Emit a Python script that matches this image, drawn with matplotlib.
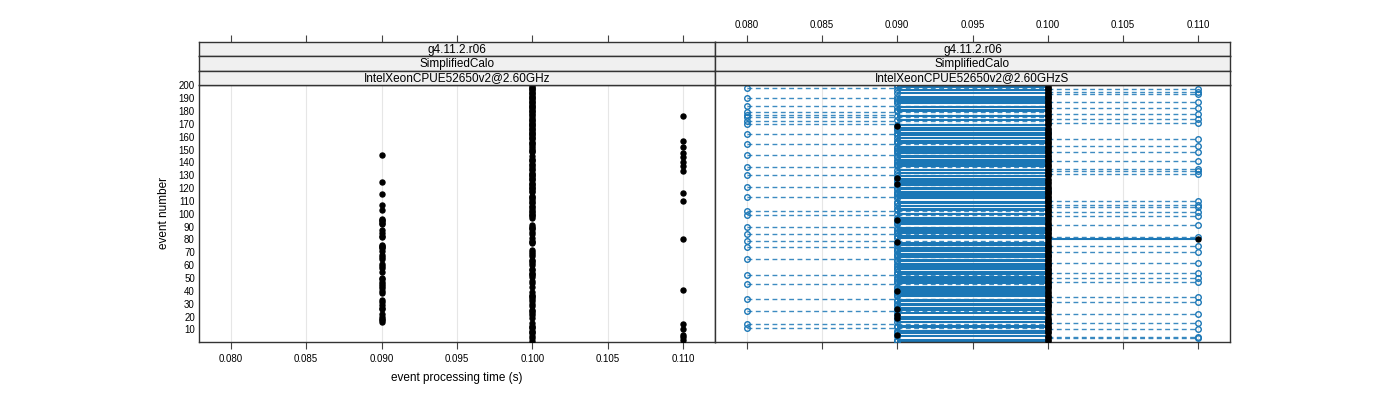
import numpy as np
import matplotlib
matplotlib.use("Agg")
import matplotlib.pyplot as plt

plt.rcParams['font.family'] = ['Liberation Sans', 'DejaVu Sans']

# ---------------- data ----------------
events = np.arange(1, 201)
time_levels = {"t080": 0.080, "t090": 0.090, "t100": 0.100, "t110": 0.110}
xticks = [0.080, 0.085, 0.090, 0.095, 0.100, 0.105, 0.110]
xtick_labels = ["0.080", "0.085", "0.090", "0.095", "0.100", "0.105", "0.110"]
yticks = list(range(10, 201, 10))

strip_left = ["g4.11.2.r06", "SimplifiedCalo", "IntelXeonCPUE52650v2@2.60GHz"]
strip_right = ["g4.11.2.r06", "SimplifiedCalo", "IntelXeonCPUE52650v2@2.60GHzS"]

# left panel: events at 0.090 s and 0.110 s (all others 0.100 s)
left_090 = [146, 125, 115, 107, 103, 96, 95, 94, 93, 92, 87, 85, 83, 82, 76, 75, 74,
            73, 71, 68, 66, 65, 61, 59, 58, 55, 50, 49, 47, 45, 44, 42, 40, 38, 33,
            31, 29, 27, 26, 22, 20, 18, 17, 16]
left_110 = [176, 157, 152, 147, 144, 140, 137, 133, 116, 110, 80, 41, 14, 10, 6, 4, 2]

# right panel reference (black): events at 0.090 / 0.110 s (others 0.100 s)
right_ref_090 = [168, 128, 123, 95, 78, 40, 26, 21, 19, 6]
right_ref_110 = [80]

# right panel comparison (blue circles): events at 0.080 / 0.100 / 0.110 s (others 0.090 s)
right_new_080 = [198, 190, 184, 179, 177, 175, 172, 170, 162, 154, 146, 136, 130,
                 121, 113, 102, 99, 90, 84, 79, 74, 65, 52, 45, 34, 24, 14, 11]
right_new_110 = [197, 195, 193, 187, 182, 178, 174, 171, 158, 153, 148, 141, 135, 133,
                 131, 110, 107, 105, 101, 98, 91, 82, 75, 70, 62, 54, 50, 47, 35, 31,
                 22, 15, 10, 4, 3]
right_new_100 = [192, 185, 164, 160, 143, 118, 111, 88, 80, 67, 60, 56, 44, 28, 17]

# build per-event arrays
left_time = np.full(events.size, time_levels["t100"])
left_time[np.isin(events, left_090)] = time_levels["t090"]
left_time[np.isin(events, left_110)] = time_levels["t110"]

ref_time = np.full(events.size, time_levels["t100"])
ref_time[np.isin(events, right_ref_090)] = time_levels["t090"]
ref_time[np.isin(events, right_ref_110)] = time_levels["t110"]

new_time = np.full(events.size, time_levels["t090"])
new_time[np.isin(events, right_new_080)] = time_levels["t080"]
new_time[np.isin(events, right_new_100)] = time_levels["t100"]
new_time[np.isin(events, right_new_110)] = time_levels["t110"]

# ---------------- layout ----------------
W, H = 1400, 400
fig = plt.figure(figsize=(W / 100, H / 100), dpi=100)

def rect(x0, y0, x1, y1):
    return [x0 / W, 1 - y1 / H, (x1 - x0) / W, (y1 - y0) / H]

XL = (0.0779, 0.1121)
YL = (0.2, 200.2)
BLUE = "#1b77b6"
FRAME = "#333333"

panels = [(199, 715, strip_left), (715, 1230, strip_right)]
strip_rows = [(42, 56.3), (56.3, 70.7), (70.7, 85)]
axes = []
for i, (x0, x1, strips) in enumerate(panels):
    ax = fig.add_axes(rect(x0, 85, x1, 342))
    ax.set_xlim(*XL)
    ax.set_ylim(*YL)
    ax.set_xticks(xticks)
    ax.grid(axis='x', color='#e6e6e6', lw=0.8, zorder=0)
    ax.set_axisbelow(True)
    for s in ax.spines.values():
        s.set_color(FRAME)
        s.set_linewidth(1.0)
    ax.tick_params(axis='x', direction='out', length=5, width=0.8, color='#444444',
                   labelsize=7, pad=4)
    if i == 0:
        ax.set_xticklabels(xtick_labels)
        ax.set_yticks(yticks)
        ax.set_yticklabels([str(v) for v in yticks])
        ax.tick_params(axis='y', length=0, labelsize=7, pad=3)
    else:
        ax.set_xticklabels([])
        ax.set_yticks([])
    axes.append(ax)
    for j, (ya, yb) in enumerate(strip_rows):
        sax = fig.add_axes(rect(x0, ya, x1, yb))
        sax.set_facecolor('#f0f0f0')
        sax.set_xlim(*XL)
        sax.set_yticks([])
        for s in sax.spines.values():
            s.set_color(FRAME)
            s.set_linewidth(1.0)
        sax.text(0.5, 0.45, strips[j], transform=sax.transAxes, ha='center',
                 va='center', fontsize=8.5)
        if j == 0:
            sax.xaxis.tick_top()
            sax.set_xticks(xticks)
            sax.tick_params(axis='x', direction='out', length=5, width=0.8,
                            color='#444444', labelsize=7, pad=4)
            if i == 1:
                sax.set_xticklabels(xtick_labels)
            else:
                sax.set_xticklabels([])
        else:
            sax.set_xticks([])

ax1, ax2 = axes

# left panel points
ax1.plot(left_time, events, 'o', color='black', ms=3.6, mec='black', zorder=3)

# right panel: segments between reference and comparison
diff = ref_time - new_time
solid = (diff > 0) & (diff <= 0.0105)
dashed = (np.abs(diff) > 1e-9) & ~solid
lo = np.minimum(ref_time, new_time)
hi = np.maximum(ref_time, new_time)
ax2.hlines(events[dashed], lo[dashed], hi[dashed], colors=BLUE, lw=1.0,
           linestyles=(0, (3.5, 2.5)), alpha=0.85, zorder=2)
ax2.hlines(events[solid], lo[solid], hi[solid], colors=BLUE, lw=1.5, zorder=2)
ax2.plot(new_time, events, 'o', mfc='none', mec=BLUE, ms=4.0, mew=1.0, zorder=3)
ax2.plot(ref_time, events, 'o', color='black', ms=3.6, zorder=4)

fig.text(457 / W, 1 - 378 / H, "event processing time (s)", ha='center',
         va='center', fontsize=8.5)
fig.text(164 / W, 1 - 213 / H, "event number", ha='center', va='center',
         rotation=90, fontsize=8.5)

fig.savefig("out.png", dpi=100)
